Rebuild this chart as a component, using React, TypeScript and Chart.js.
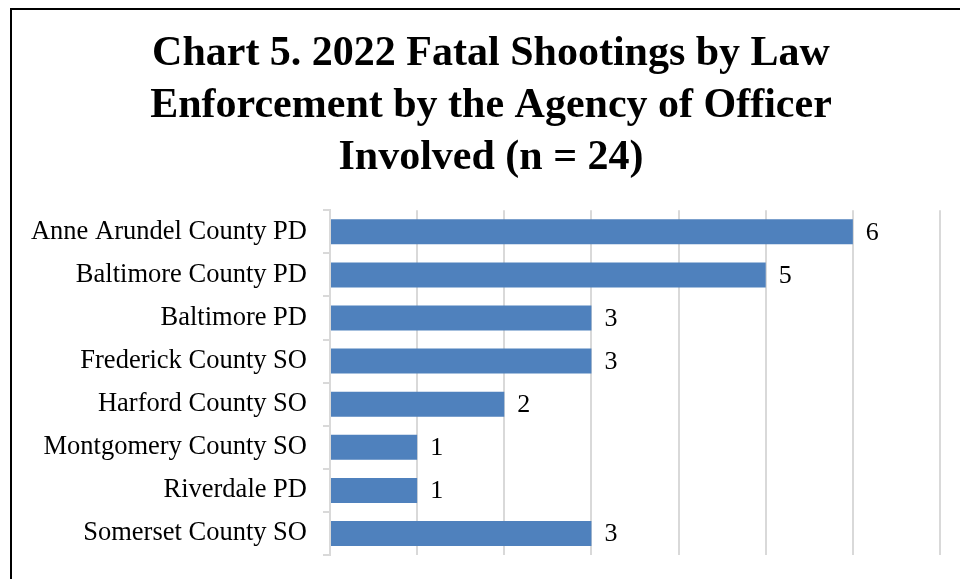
import React, { useEffect, useRef } from "react";
import { Chart, registerables } from "chart.js";

Chart.register(...registerables);

const titleLines = [
  "Chart 5. 2022 Fatal Shootings by Law",
  "Enforcement by the Agency of Officer",
  "Involved (n = 24)",
];
const agencies = [
  "Anne Arundel County PD",
  "Baltimore County PD",
  "Baltimore PD",
  "Frederick County SO",
  "Harford County SO",
  "Montgomery County SO",
  "Riverdale PD",
  "Somerset County SO",
];
const shootings = [6, 5, 3, 3, 2, 1, 1, 3];
const xMin = 0;
const xMax = 7;
const xStep = 1;

const SERIF = "'Liberation Serif', 'Times New Roman', serif";

const valueLabels = {
  id: "valueLabels",
  afterDatasetsDraw(chart: any) {
    const ctx = chart.ctx;
    const meta = chart.getDatasetMeta(0);
    ctx.save();
    ctx.fillStyle = "#000";
    ctx.font = `26px ${SERIF}`;
    ctx.textAlign = "left";
    ctx.textBaseline = "middle";
    meta.data.forEach((el: any, i: number) => {
      const v = chart.data.datasets[0].data[i];
      ctx.fillText(String(v), el.x + 13, el.y + 1);
    });
    ctx.restore();
  },
};

export default function App() {
  const ref = useRef<HTMLCanvasElement | null>(null);
  useEffect(() => {
    if (!ref.current) return;
    const chart = new Chart(ref.current, {
      type: "bar",
      data: {
        labels: agencies,
        datasets: [
          {
            data: shootings,
            backgroundColor: "#4f81bd",
            borderWidth: 0,
            barPercentage: 0.58,
            categoryPercentage: 1,
          },
        ],
      },
      options: {
        indexAxis: "y",
        animation: false,
        responsive: false,
        maintainAspectRatio: false,
        layout: { padding: { left: 0, right: 0, top: 0, bottom: 16 } },
        plugins: {
          legend: { display: false },
          tooltip: { enabled: false },
          title: {
            display: true,
            text: titleLines,
            color: "#000",
            font: { family: SERIF, size: 42, weight: "bold", lineHeight: 1.24 },
            padding: { top: 18, bottom: 26 },
          },
        },
        scales: {
          x: {
            min: xMin,
            max: xMax,
            ticks: { display: false, stepSize: xStep },
            grid: { color: "#d9d9d9", lineWidth: 2, drawTicks: false },
            border: { display: false },
            afterFit(scale: any) {
              scale.height = 0;
            },
          },
          y: {
            ticks: {
              color: "#000",
              font: { family: SERIF, size: 26.5 },
              padding: 16,
            },
            grid: {
              drawOnChartArea: false,
              drawTicks: true,
              tickLength: 7,
              color: "#d9d9d9",
              lineWidth: 2,
              offset: true,
            },
            border: { display: true, color: "#d9d9d9", width: 2 },
            afterFit(scale: any) {
              scale.width = 318;
            },
          },
          yPad: {
            type: "category",
            position: "right",
            labels: agencies,
            ticks: { display: false },
            grid: { display: false, drawTicks: false },
            border: { display: false },
            afterFit(scale: any) {
              scale.width = 30;
            },
          },
        },
      },
      plugins: [valueLabels],
    });
    return () => chart.destroy();
  }, []);
  return (
    <div
      style={{
        position: "fixed",
        left: 10,
        top: 8,
        width: 1000,
        height: 640,
        border: "2px solid #000",
        background: "#fff",
        overflow: "hidden",
      }}
    >
      <canvas ref={ref} width={958} height={577} style={{ display: "block" }} />
    </div>
  );
}
